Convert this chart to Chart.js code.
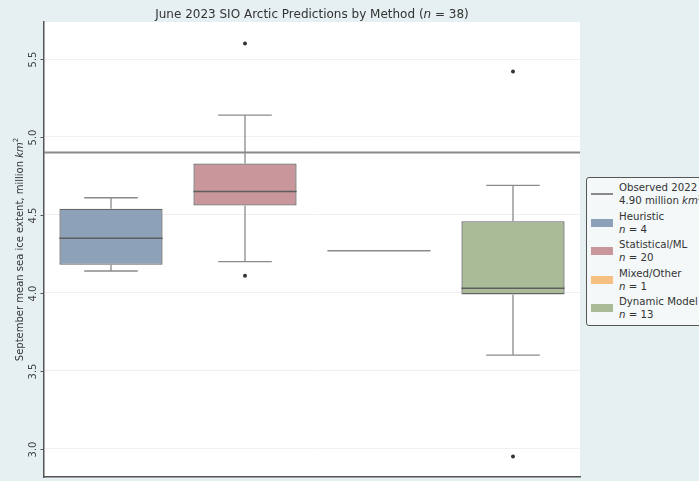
<!DOCTYPE html>
<html>
<head>
<meta charset="utf-8">
<script src="https://cdn.jsdelivr.net/npm/chart.js@4.4.0/dist/chart.umd.min.js"></script>
<style>
  html, body { margin: 0; padding: 0; }
  body { width: 699px; height: 481px; overflow: hidden; background: #e6eff1; position: relative;
         font-family: "DejaVu Sans", sans-serif; }
  #chart { position: absolute; left: 0; top: 0; }
  #legend { position: absolute; left: 586px; top: 177px; width: 130px; padding: 3px 0 4px 4px;
            border: 1.3px solid #555; border-radius: 3px; background: #f4f8f9; color: #333;
            font-size: 10.2px; line-height: 13px; }
  .item { display: flex; align-items: center; margin-bottom: 2.6px; }
  .item:last-child { margin-bottom: 0; }
  .sample { width: 22px; margin-right: 6px; flex: none; }
  .patch { height: 8px; }
  .line { height: 2px; background: #8a8a8a; }
  .label { line-height: 13px; }
  sup { font-size: 7px; line-height: 0; vertical-align: 4px; }
  i { font-style: italic; }
</style>
</head>
<body>
<canvas id="chart" width="699" height="481"></canvas>
<div id="legend"></div>
<script>
// forecast distributions per method, million km^2
var methods = ["Heuristic", "Statistical/ML", "Mixed/Other", "Dynamic Model"];
var counts = [4, 20, 1, 13];
var whiskerLow = [4.14, 4.20, null, 3.60];
var q1 = [4.18, 4.56, null, 3.99];
var medians = [4.35, 4.65, 4.27, 4.03];
var q3 = [4.54, 4.83, null, 4.46];
var whiskerHigh = [4.61, 5.14, null, 4.69];
var outliers = [[], [5.60, 4.11], [], [5.42, 2.95]];
var observed = 4.90;
var boxColors = ["#8da2b8", "#c9979b", "#f6bf82", "#aabb98"];
var yTicks = [3.0, 3.5, 4.0, 4.5, 5.0, 5.5];

var boxWidth = 0.77;   // in category units
var capHalf = 0.2;

// whiskers and caps as broken line segments on the numeric x axis
var whiskerPts = [];
var seg = function(pts, x0, x1, y0, y1, extra){
  pts.push(Object.assign({x: x0, y: y0}, extra || {}));
  pts.push(Object.assign({x: x1, y: y1}, extra || {}));
  pts.push({x: x1, y: null});
};
for (var i = 0; i < methods.length; i++) {
  if (whiskerLow[i] === null) continue;
  seg(whiskerPts, i, i, whiskerLow[i], q1[i]);
  seg(whiskerPts, i, i, q3[i], whiskerHigh[i]);
  seg(whiskerPts, i - capHalf, i + capHalf, whiskerLow[i], whiskerLow[i]);
  seg(whiskerPts, i - capHalf, i + capHalf, whiskerHigh[i], whiskerHigh[i]);
}
var medianPts = [];
for (var i = 0; i < methods.length; i++) {
  var c = counts[i] > 1 ? "#5e5e5e" : "#8a8a8a";
  seg(medianPts, i - boxWidth / 2, i + boxWidth / 2, medians[i], medians[i], {c: c});
}
var outlierPts = [];
outliers.forEach(function(list, i){
  list.forEach(function(v){ outlierPts.push({x: i, y: v}); });
});

// centered text made of differently styled runs
var drawRich = function(ctx, parts, cx, cy, color){
  ctx.save();
  ctx.fillStyle = color;
  ctx.textAlign = "left";
  ctx.textBaseline = "middle";
  var w = 0;
  parts.forEach(function(p){ ctx.font = p.f; w += ctx.measureText(p.t).width; });
  var x = cx - w / 2;
  parts.forEach(function(p){
    ctx.font = p.f;
    ctx.fillText(p.t, x, cy + (p.dy || 0));
    x += ctx.measureText(p.t).width;
  });
  ctx.restore();
};

// extra drawing: white plot area, rotated y ticks, titles
var decor = {
  id: "decor",
  beforeDraw: function(chart){
    var ctx = chart.ctx, a = chart.chartArea;
    ctx.save();
    ctx.fillStyle = "#ffffff";
    ctx.fillRect(a.left, a.top, a.right - a.left, a.bottom - a.top);
    ctx.restore();
  },
  afterDraw: function(chart){
    var ctx = chart.ctx, a = chart.chartArea, y = chart.scales.y;
    ctx.save();
    ctx.strokeStyle = "#555";
    ctx.lineWidth = 1;
    ctx.fillStyle = "#444";
    ctx.font = "10px 'DejaVu Sans'";
    ctx.textAlign = "center";
    ctx.textBaseline = "middle";
    yTicks.forEach(function(v){
      var py = Math.round(y.getPixelForValue(v)) + 0.5;
      ctx.beginPath();
      ctx.moveTo(a.left - 3.5, py);
      ctx.lineTo(a.left, py);
      ctx.stroke();
      ctx.save();
      ctx.translate(33, py);
      ctx.rotate(-Math.PI / 2);
      ctx.fillText(v.toFixed(1), 0, 0);
      ctx.restore();
    });
    // y axis title
    ctx.save();
    ctx.translate(20, (a.top + a.bottom) / 2);
    ctx.rotate(-Math.PI / 2);
    drawRich(ctx, [
      {t: "September mean sea ice extent, million ", f: "10px 'DejaVu Sans'"},
      {t: "km", f: "italic 10px 'DejaVu Sans'"},
      {t: "2", f: "7px 'DejaVu Sans'", dy: -4}
    ], 0, 0, "#333");
    ctx.restore();
    // chart title
    drawRich(ctx, [
      {t: "June 2023 SIO Arctic Predictions by Method (", f: "12px 'DejaVu Sans'"},
      {t: "n", f: "italic 12px 'DejaVu Sans'"},
      {t: " = 38)", f: "12px 'DejaVu Sans'"}
    ], (a.left + a.right) / 2, 15, "#333");
    ctx.restore();
  }
};

var chart = new Chart(document.getElementById("chart"), {
  type: "bar",
  data: {
    labels: methods,
    datasets: [
      {
        type: "line", label: "observed", xAxisID: "x2", order: 0,
        data: [{x: -0.5, y: observed}, {x: methods.length - 0.5, y: observed}],
        borderColor: "#8a8a8a", borderWidth: 2, pointRadius: 0
      },
      {
        type: "bar", label: "boxes", xAxisID: "x", order: 3, grouped: false,
        data: q1.map(function(v, i){ return v === null ? null : [v, q3[i]]; }),
        backgroundColor: boxColors, borderColor: "#666", borderWidth: 1.3,
        borderSkipped: false, barPercentage: boxWidth, categoryPercentage: 1
      },
      {
        type: "line", label: "whiskers", xAxisID: "x2", order: 2,
        data: whiskerPts, borderColor: "#8a8a8a", borderWidth: 1.3,
        pointRadius: 0, spanGaps: false
      },
      {
        type: "line", label: "medians", xAxisID: "x2", order: 1,
        data: medianPts, borderColor: "#5e5e5e", borderWidth: 1.5,
        pointRadius: 0, spanGaps: false,
        segment: { borderColor: function(ctx){ return ctx.p0.raw.c; } }
      },
      {
        type: "scatter", label: "outliers", xAxisID: "x2", order: 0,
        data: outlierPts, backgroundColor: "#333", borderWidth: 0, pointRadius: 2
      }
    ]
  },
  options: {
    responsive: false,
    animation: false,
    devicePixelRatio: 1,
    layout: { padding: { left: 44, top: 22, right: 119, bottom: 1 } },
    plugins: { legend: { display: false }, tooltip: { enabled: false } },
    scales: {
      x: {
        type: "category", offset: true,
        grid: { display: false },
        ticks: { display: false },
        border: { color: "#555", width: 1.5 },
        afterFit: function(s){ s.height = 0; }
      },
      x2: { type: "linear", display: false, offset: false, min: -0.5, max: methods.length - 0.5 },
      y: {
        min: 2.818, max: 5.738,
        afterBuildTicks: function(s){ s.ticks = yTicks.map(function(v){ return {value: v}; }); },
        ticks: { display: false },
        grid: { color: "#f0f0f0", drawTicks: false },
        border: { color: "#555", width: 1.5 },
        afterFit: function(s){ s.width = 0; }
      }
    }
  },
  plugins: [decor]
});

// legend: observed line then one patch per method
var legendHtml = '<div class="item"><div class="sample line"></div><div class="label">Observed 2022<br>' +
  observed.toFixed(2) + ' million <i>km</i><sup>2</sup></div></div>';
methods.forEach(function(m, i){
  legendHtml += '<div class="item"><div class="sample patch" style="background:' + boxColors[i] +
    '"></div><div class="label">' + m + '<br><i>n</i> = ' + counts[i] + '</div></div>';
});
document.getElementById("legend").innerHTML = legendHtml;
</script>
</body>
</html>
